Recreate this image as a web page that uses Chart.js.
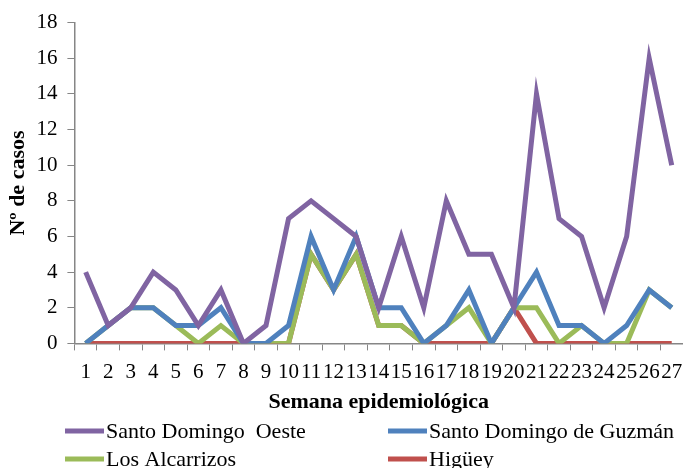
<!DOCTYPE html>
<html>
<head>
<meta charset="utf-8">
<script src="https://cdn.jsdelivr.net/npm/chart.js@4"></script>
<style>
  body { margin: 0; background: #fff; }
  #wrap { width: 683px; height: 468px; }
</style>
</head>
<body>
<div id="wrap"><canvas id="mychart"></canvas></div>
<script>
const semanas = ['1','2','3','4','5','6','7','8','9','10','11','12','13','14','15','16','17','18','19','20','21','22','23','24','25','26','27'];
const sdOeste  = [4,1,2,4,3,1,3,0,1,7,8,7,6,2,6,2,8,5,5,2,14,7,6,2,6,16,10];
const sdGuzman = [0,1,2,2,1,1,2,0,0,1,6,3,6,2,2,0,1,3,0,2,4,1,1,0,1,3,2];
const alcarrizos = [0,1,2,2,1,0,1,0,0,0,5,3,5,1,1,0,1,2,0,2,2,0,1,0,0,3,2];
const higuey   = [0,0,0,0,0,0,0,0,0,0,5,3,5,1,1,0,0,0,0,2,0,0,0,0,0,0,0];
const yTicks = [0,2,4,6,8,10,12,14,16,18];

const serif = '"Liberation Serif", "DejaVu Serif", serif';
const axisGray = '#868686';

// legend in two columns, like the original
const legendCols = {
    id: 'legendCols',
    afterDraw(chart) {
        const c = chart.ctx;
        const pos = [[65, 431], [388, 431], [65, 459], [388, 459]];
        c.save();
        c.font = '22px ' + serif;
        c.textBaseline = 'middle';
        chart.data.datasets.forEach((ds, i) => {
            const [x, y] = pos[i];
            c.strokeStyle = ds.borderColor;
            c.lineWidth = 5;
            c.beginPath();
            c.moveTo(x, y);
            c.lineTo(x + 39, y);
            c.stroke();
            c.fillStyle = '#000';
            c.fillText(ds.label, x + 41, y + 1);
        });
        c.restore();
    }
};

const ctx = document.getElementById('mychart').getContext('2d');

const mychart = new Chart(ctx, {
    type: 'line',
    data: {
        labels: semanas,
        datasets: [
            { label: 'Santo Domingo  Oeste', data: sdOeste, borderColor: '#8064A2' },
            { label: 'Santo Domingo de Guzmán', data: sdGuzman, borderColor: '#4F81BD' },
            { label: 'Los Alcarrizos', data: alcarrizos, borderColor: '#9BBB59' },
            { label: 'Higüey', data: higuey, borderColor: '#C0504D' }
        ]
    },
    options: {
        responsive: true,
        maintainAspectRatio: false,
        animation: false,
        elements: {
            line: { borderWidth: 5, tension: 0, fill: false, borderJoinStyle: 'miter' },
            point: { radius: 0, hoverRadius: 0 }
        },
        layout: { padding: { left: 2, right: 0, top: 8, bottom: 52 } },
        scales: {
            x: {
                offset: true,
                afterFit: axis => { axis.paddingRight = 0; },
                grid: { offset: true, drawOnChartArea: false, drawTicks: true, tickLength: 7, color: axisGray },
                border: { color: axisGray, width: 1.5 },
                ticks: { color: '#000', font: { family: serif, size: 21 }, padding: 9, maxRotation: 0, autoSkip: false },
                title: { display: true, text: 'Semana epidemiológica', color: '#000', font: { family: serif, size: 22, weight: 'bold' }, padding: { top: -4, bottom: 0 } }
            },
            y: {
                min: 0,
                max: 18,
                afterBuildTicks: axis => { axis.ticks = yTicks.map(v => ({ value: v })); },
                grid: { drawOnChartArea: false, drawTicks: true, tickLength: 7, color: axisGray },
                border: { color: axisGray, width: 1.5 },
                ticks: { color: '#000', font: { family: serif, size: 21 }, padding: 10 },
                title: { display: true, text: 'Nº de casos', color: '#000', font: { family: serif, size: 22, weight: 'bold' }, padding: { top: 3, bottom: -5 } }
            }
        },
        plugins: {
            legend: { display: false },
            tooltip: { enabled: false }
        }
    },
    plugins: [legendCols]
});
</script>
</body>
</html>
